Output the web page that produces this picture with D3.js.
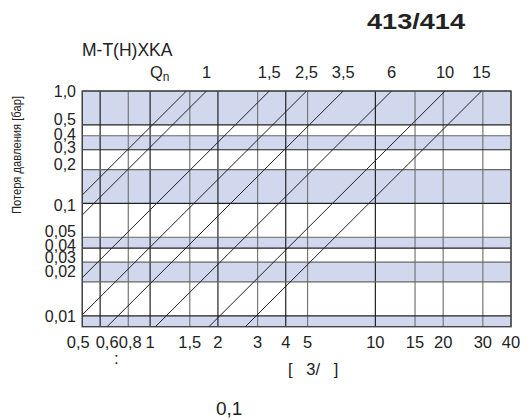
<!DOCTYPE html>
<html>
<head>
<meta charset="utf-8">
<script src="https://cdn.jsdelivr.net/npm/d3@7"></script>
<style>
  body { margin: 0; background: #fff; }
  text { font-family: Arial, "Liberation Sans", sans-serif; fill: #222; }
</style>
</head>
<body>
<svg id="chart" width="532" height="420"></svg>
<script>
// flow (m3/h) at which each meter line reaches 1 bar
const lineFlowAt1Bar = [1.45, 1.78, 3.38, 4.95, 7.2, 11.8, 20.4, 29.6];
const lineQnLabels = ["", "1", "1,5", "2,5", "3,5", "6", "10", "15"];

const xTicks = [0.5, 0.6, 0.8, 1, 1.5, 2, 3, 4, 5, 10, 15, 20, 30, 40];
const xTickLabels = ["0,5", "0,6", "0,8", "1", "1,5", "2", "3", "4", "5", "10", "15", "20", "30", "40"];
const xDarkTicks = [0.6, 1, 2, 4, 10];

const yTicks = [1, 0.5, 0.4, 0.3, 0.2, 0.1, 0.05, 0.04, 0.03, 0.02, 0.01];
const yTickLabels = ["1,0", "0,5", "0,4", "0,3", "0,2", "0,1", "0,05", "0,04", "0,03", "0,02", "0,01"];
const yDarkTicks = [0.5, 0.3, 0.1, 0.04, 0.01];

// shaded bands, every other interval
const bandEdges = [1, 0.5, 0.4, 0.3, 0.2, 0.1, 0.05, 0.04, 0.03, 0.02, 0.01, 0.008];

let svg = d3.select("#chart");

let x = d3.scaleLog().domain([0.5, 40]).range([82.3, 511]);
let y = d3.scaleLog().domain([0.008, 1]).range([326.7, 91]);

let plot = svg.append("g");

svg.append("defs").append("clipPath").attr("id", "clip")
  .append("rect")
  .attr("x", x.range()[0]).attr("y", y.range()[1])
  .attr("width", x.range()[1] - x.range()[0])
  .attr("height", y.range()[0] - y.range()[1]);

// bands
plot.selectAll("rect.band")
  .data(d3.pairs(bandEdges).filter((d, i) => i % 2 === 0))
  .enter().append("rect")
  .attr("class", "band")
  .attr("x", x.range()[0])
  .attr("width", x.range()[1] - x.range()[0])
  .attr("y", d => y(d[0]))
  .attr("height", d => y(d[1]) - y(d[0]))
  .attr("fill", "#d1d8ee");

// grid
plot.selectAll("line.vgrid")
  .data(xTicks)
  .enter().append("line")
  .attr("x1", d => x(d)).attr("x2", d => x(d))
  .attr("y1", y.range()[1]).attr("y2", y.range()[0])
  .attr("stroke", d => xDarkTicks.includes(d) ? "#222" : "#777")
  .attr("stroke-width", 1.2);

plot.selectAll("line.hgrid")
  .data(yTicks)
  .enter().append("line")
  .attr("y1", d => y(d)).attr("y2", d => y(d))
  .attr("x1", x.range()[0]).attr("x2", x.range()[1])
  .attr("stroke", d => yDarkTicks.includes(d) ? "#222" : "#666")
  .attr("stroke-width", 1.2);

plot.append("rect")
  .attr("x", x.range()[0]).attr("y", y.range()[1])
  .attr("width", x.range()[1] - x.range()[0])
  .attr("height", y.range()[0] - y.range()[1])
  .attr("fill", "none").attr("stroke", "#444").attr("stroke-width", 1.4);

// pressure loss lines: dp = (Q / kv)^2
let lineGen = d3.line().x(d => x(d[0])).y(d => y(d[1]));
plot.append("g").attr("clip-path", "url(#clip)")
  .selectAll("path")
  .data(lineFlowAt1Bar)
  .enter().append("path")
  .attr("d", kv => lineGen([[0.4, (0.4 / kv) ** 2], [kv, 1]]))
  .attr("fill", "none")
  .attr("stroke", "#222")
  .attr("stroke-width", 1);

// x tick labels (first few nudged apart, as in the original)
const nudge = { 0.5: -4, 0.6: 7, 0.8: 2, 1: 0 };
svg.selectAll("text.xt")
  .data(xTicks)
  .enter().append("text")
  .attr("x", d => x(d) + (nudge[d] || 0))
  .attr("y", 348)
  .attr("text-anchor", "middle")
  .attr("font-size", 16.5)
  .text((d, i) => xTickLabels[i]);

// y tick labels, crowded ones spread vertically like the original
const yNudge = { 0.5: -6, 0.4: -1, 0.3: -3, 0.2: -5, 0.1: 2, 0.05: -6, 0.04: -3, 0.03: -5, 0.02: -11 };
svg.selectAll("text.yt")
  .data(yTicks)
  .enter().append("text")
  .attr("x", 76)
  .attr("y", d => y(d) + (yNudge[d] || 0))
  .attr("dy", "0.36em")
  .attr("text-anchor", "end")
  .attr("font-size", 16)
  .text((d, i) => yTickLabels[i]);

// Qn labels above the lines
svg.selectAll("text.qn")
  .data(lineFlowAt1Bar)
  .enter().append("text")
  .attr("x", d => x(d))
  .attr("y", 78)
  .attr("text-anchor", "middle")
  .attr("font-size", 16.5)
  .text((d, i) => lineQnLabels[i]);

let qn = svg.append("text").attr("x", 150).attr("y", 78).attr("font-size", 16.5);
qn.append("tspan").text("Q");
qn.append("tspan").attr("font-size", 12).attr("dy", 3).text("n");

svg.append("text").attr("x", 82).attr("y", 56).attr("font-size", 17.5).text("M-T(H)XKA");

svg.append("text").attr("x", 367).attr("y", 29)
  .attr("font-size", 22).attr("font-weight", "bold")
  .attr("textLength", 98).attr("lengthAdjust", "spacingAndGlyphs")
  .text("413/414");

svg.append("text")
  .attr("transform", "translate(21,155) rotate(-90)")
  .attr("text-anchor", "middle")
  .attr("font-size", 12)
  .attr("textLength", 118).attr("lengthAdjust", "spacingAndGlyphs")
  .text("Потеря давления [бар]");

svg.append("text").attr("x", 114).attr("y", 364).attr("font-size", 17).text(":");

svg.append("text").attr("x", 288).attr("y", 375).attr("font-size", 16.5)
  .style("white-space", "pre")
  .text("[   3/   ]");

svg.append("text").attr("x", 216).attr("y", 415).attr("font-size", 19).text("0,1");
</script>
</body>
</html>
